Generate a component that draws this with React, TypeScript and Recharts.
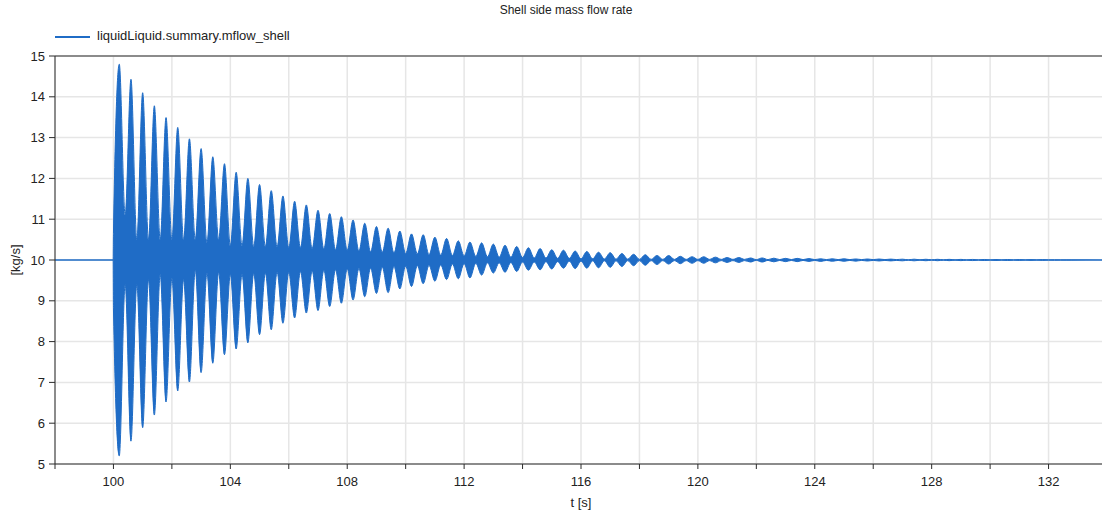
import { AreaChart, Area, XAxis, YAxis, CartesianGrid, ReferenceLine } from 'recharts';

// beat peaks of the shell side flow (t in s, values in kg/s)
const beatTime = [
  100.2, 100.6, 101.0, 101.4, 101.8, 102.2, 102.6, 103.0, 103.4, 103.8,
  104.2, 104.6, 105.0, 105.4, 105.8, 106.2, 106.6, 107.0, 107.4, 107.8,
  108.2, 108.6, 109.0, 109.4, 109.8, 110.2, 110.6, 111.0, 111.4, 111.8,
  112.2, 112.6, 113.0, 113.4, 113.8, 114.2, 114.6, 115.0, 115.4, 115.8,
  116.2, 116.6, 117.0, 117.4, 117.8, 118.2, 118.6, 119.0, 119.4, 119.8,
  120.2, 120.6, 121.0, 121.4, 121.8, 122.2, 122.6, 123.0, 123.4, 123.8,
  124.2, 124.6, 125.0, 125.4, 125.8, 126.2, 126.6, 127.0, 127.4, 127.8,
  128.2, 128.6, 129.0, 129.4, 129.8, 130.2, 130.6, 131.0, 131.4, 131.8,
  132.2, 132.6,
];
const beatHigh = [
  14.8, 14.43, 14.1, 13.78, 13.49, 13.25, 12.97, 12.73, 12.53, 12.36,
  12.15, 12.0, 11.85, 11.7, 11.57, 11.44, 11.35, 11.22, 11.14, 11.06,
  10.98, 10.9, 10.82, 10.78, 10.71, 10.64, 10.62, 10.56, 10.53, 10.47,
  10.44, 10.42, 10.39, 10.36, 10.33, 10.3, 10.28, 10.25, 10.24, 10.22,
  10.21, 10.19, 10.18, 10.16, 10.14, 10.13, 10.11, 10.11, 10.09, 10.08,
  10.08, 10.07, 10.06, 10.06, 10.05, 10.05, 10.045, 10.04, 10.04, 10.035,
  10.03, 10.03, 10.028, 10.026, 10.025, 10.024, 10.022, 10.02, 10.02, 10.018,
  10.017, 10.016, 10.015, 10.014, 10.013, 10.012, 10.012, 10.011, 10.01, 10.01,
  10.008, 10.006,
];
const beatLow = [
  5.2, 5.56, 5.89, 6.2, 6.52, 6.79, 7.01, 7.24, 7.47, 7.68,
  7.82, 7.97, 8.17, 8.29, 8.45, 8.58, 8.7, 8.76, 8.86, 8.94,
  9.02, 9.1, 9.18, 9.2, 9.29, 9.35, 9.42, 9.48, 9.52, 9.54,
  9.56, 9.63, 9.68, 9.7, 9.72, 9.75, 9.76, 9.78, 9.8, 9.79,
  9.8, 9.81, 9.82, 9.84, 9.86, 9.87, 9.89, 9.9, 9.91, 9.92,
  9.92, 9.93, 9.94, 9.94, 9.95, 9.95, 9.955, 9.96, 9.96, 9.965,
  9.965, 9.97, 9.97, 9.972, 9.975, 9.976, 9.978, 9.98, 9.98, 9.982,
  9.983, 9.984, 9.985, 9.986, 9.987, 9.988, 9.988, 9.989, 9.99, 9.99,
  9.992, 9.994,
];

// narrow necks between the beats
const nodeTime = [
  100.4, 100.8, 101.2, 101.6, 102.0, 102.4, 102.8, 103.2, 103.6, 104.0,
  104.4, 104.8, 105.2, 105.6, 106.0, 106.4, 106.8, 107.2, 107.6, 108.0,
  108.4, 108.8, 109.2, 109.6, 110.0, 110.4, 110.8, 111.2, 111.6, 112.0,
  112.4, 112.8, 113.2, 113.6, 114.0, 114.4, 114.8, 115.2, 115.6, 116.0,
  116.4, 116.8, 117.2, 117.6, 118.0, 118.4, 118.8, 119.2, 119.6, 120.0,
  120.4, 120.8, 121.2, 121.6, 122.0, 122.4, 122.8, 123.2, 123.6, 124.0,
  124.4, 124.8, 125.2, 125.6, 126.0, 126.4, 126.8, 127.2, 127.6, 128.0,
  128.4, 128.8, 129.2, 129.6, 130.0, 130.4, 130.8, 131.2, 131.6, 132.0,
  132.4, 132.8,
];
const nodeHigh = [
  11.1, 10.5, 10.5, 10.5, 10.5, 10.5, 10.5, 10.42, 10.5, 10.35,
  10.35, 10.33, 10.33, 10.32, 10.3, 10.3, 10.28, 10.27, 10.25, 10.24,
  10.22, 10.2, 10.19, 10.17, 10.16, 10.15, 10.13, 10.12, 10.11, 10.1,
  10.09, 10.08, 10.07, 10.07, 10.06, 10.05, 10.05, 10.04, 10.04, 10.03,
  10.03, 10.025, 10.02, 10.02, 10.015, 10.015, 10.015, 10.015, 10.015, 10.015,
  10.015, 10.015, 10.015, 10.015, 10.01, 10.01, 10.01, 10.01, 10.01, 10.01,
  10.01, 10.01, 10.01, 10.01, 10.01, 10.01, 10.01, 10.005, 10.005, 10.005,
  10.005, 10.005, 10.005, 10.005, 10.005, 10.005, 10.005, 10.005, 10.005, 10.005,
  10.005, 10.005,
];
const nodeLow = [
  9.4, 9.4, 9.52, 9.65, 9.55, 9.52, 9.75, 9.68, 9.7, 9.65,
  9.65, 9.67, 9.68, 9.7, 9.7, 9.72, 9.73, 9.75, 9.76, 9.78,
  9.79, 9.8, 9.82, 9.84, 9.85, 9.86, 9.87, 9.88, 9.9, 9.91,
  9.92, 9.93, 9.93, 9.94, 9.95, 9.95, 9.96, 9.96, 9.97, 9.97,
  9.98, 9.98, 9.98, 9.985, 9.985, 9.985, 9.985, 9.985, 9.985, 9.985,
  9.985, 9.985, 9.985, 9.985, 9.99, 9.99, 9.99, 9.99, 9.99, 9.99,
  9.99, 9.99, 9.99, 9.99, 9.99, 9.99, 9.99, 9.995, 9.995, 9.995,
  9.995, 9.995, 9.995, 9.995, 9.995, 9.995, 9.995, 9.995, 9.995, 9.995,
  9.995, 9.995,
];

// steady value before the step at t = 100 and after the oscillation dies out
const leadTime = [98, 99.99, 100];
const leadHigh = [10, 10, 10.65];
const leadLow = [10, 10, 8.8];
const tailTime = [134];
const tailHigh = [10];
const tailLow = [10];

const xTicks = [98, 100, 102, 104, 106, 108, 110, 112, 114, 116, 118, 120, 122, 124, 126, 128, 130, 132, 134];
const xLabels = [100, 104, 108, 112, 116, 120, 124, 128, 132];
const yTicks = [5, 6, 7, 8, 9, 10, 11, 12, 13, 14, 15];

const SERIES = 'liquidLiquid.summary.mflow_shell';
const BLUE = '#1f6cc6';
const FONT = '"Liberation Sans", Arial, sans-serif';

const rows = [
  ...leadTime.map((t, i) => ({ t, lo: leadLow[i], hi: leadHigh[i] })),
  ...beatTime.flatMap((t, i) => [
    { t, lo: beatLow[i], hi: beatHigh[i] },
    { t: nodeTime[i], lo: nodeLow[i], hi: nodeHigh[i] },
  ]),
  ...tailTime.map((t, i) => ({ t, lo: tailLow[i], hi: tailHigh[i] })),
];

function XTick({ x, y, payload }: any) {
  if (!xLabels.includes(payload.value)) return <g />;
  return (
    <text x={x} y={y} dy={15} textAnchor="middle" fill="#222" fontSize={13} fontFamily={FONT}>
      {payload.value}
    </text>
  );
}

export default function App() {
  return (
    <div
      style={{
        position: 'fixed',
        left: 0,
        top: 0,
        width: 1102,
        height: 516,
        overflow: 'hidden',
        background: '#fff',
        fontFamily: FONT,
      }}
    >
      <div style={{ position: 'absolute', left: 566, top: 3, transform: 'translateX(-50%)', fontSize: 12, color: '#222', whiteSpace: 'nowrap' }}>
        Shell side mass flow rate
      </div>
      <div style={{ position: 'absolute', left: 55, top: 36, width: 35, height: 1.5, background: BLUE }} />
      <div style={{ position: 'absolute', left: 97, top: 28, fontSize: 13, color: '#222', whiteSpace: 'nowrap' }}>{SERIES}</div>

      <AreaChart width={1110} height={516} data={rows} margin={{ top: 56, right: 3, bottom: 22, left: 0 }}>
        <CartesianGrid stroke="#e6e6e6" strokeWidth={1.5} />
        <XAxis
          dataKey="t"
          type="number"
          domain={[98, 134]}
          ticks={xTicks}
          allowDataOverflow
          height={30}
          tickSize={5}
          stroke="#2b2b2b"
          tick={<XTick />}
          label={{ value: 't [s]', position: 'bottom', offset: 4, fill: '#222', fontSize: 13, fontFamily: FONT }}
        />
        <YAxis
          type="number"
          domain={[5, 15]}
          ticks={yTicks}
          allowDataOverflow
          width={55}
          tickSize={6}
          tickMargin={4}
          stroke="#2b2b2b"
          tick={{ fill: '#222', fontSize: 13, fontFamily: FONT }}
          label={{ value: '[kg/s]', angle: -90, position: 'center', dx: -12, fill: '#222', fontSize: 13, fontFamily: FONT }}
        />
        <ReferenceLine y={15} stroke="#2b2b2b" />
        <Area
          type="monotoneX"
          dataKey={(d: any) => [d.lo, d.hi]}
          name={SERIES}
          stroke={BLUE}
          strokeWidth={1}
          fill={BLUE}
          fillOpacity={1}
          dot={false}
          activeDot={false}
          isAnimationActive={false}
        />
      </AreaChart>
    </div>
  );
}
